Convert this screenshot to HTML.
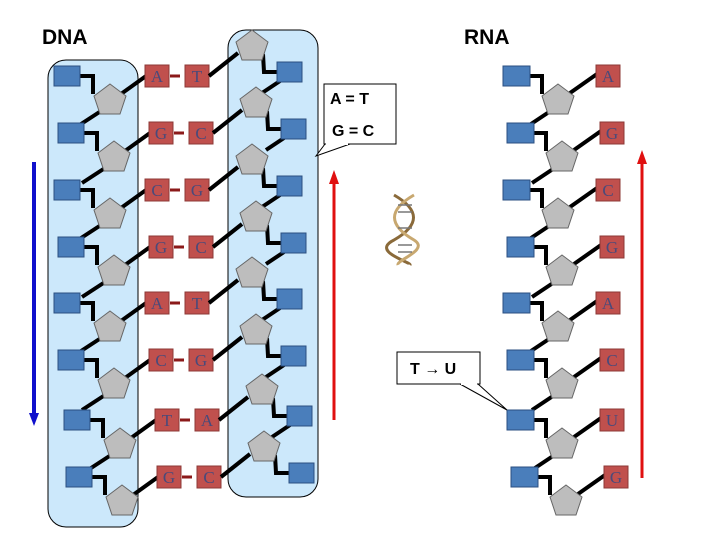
<!DOCTYPE html><html><head><style>body{margin:0;background:#fff}svg{display:block}</style></head><body>
<svg width="720" height="540" xmlns="http://www.w3.org/2000/svg">
<defs>
<g id="L">
<polyline points="80,0 93,0 93,18" fill="none" stroke="#000" stroke-width="4"/>
<line x1="121" y1="18" x2="146" y2="0" stroke="#000" stroke-width="4"/>
<rect x="54" y="-10" width="26" height="20" fill="#4a7ebb" stroke="#2b4f80"/>
<polygon points="110,8 126,20 120,38 100,38 94,20" fill="#bdbdbd" stroke="#666"/>
<rect x="145" y="-11" width="24" height="22" fill="#c0504d" stroke="#8c3836"/>
<line x1="170" y1="0" x2="180" y2="0" stroke="#8b1a1a" stroke-width="3"/>
<rect x="185" y="-11" width="24" height="22" fill="#c0504d" stroke="#8c3836"/>
<line x1="209" y1="0" x2="238" y2="-23" stroke="#000" stroke-width="4"/>
<polyline points="263,-22 264,-4 278,-4" fill="none" stroke="#000" stroke-width="4"/>
<polygon points="252,-46 268,-34 262,-16 242,-16 236,-34" fill="#bdbdbd" stroke="#666"/>
<rect x="277" y="-14" width="25" height="20" fill="#4a7ebb" stroke="#2b4f80"/>
</g>
<g id="Lt">
<line x1="101" y1="35" x2="78" y2="50" stroke="#000" stroke-width="4"/>
<line x1="280" y1="5" x2="262" y2="17" stroke="#000" stroke-width="4"/>
</g>
<g id="R">
<polyline points="530,0 542,0 542,18" fill="none" stroke="#000" stroke-width="4"/>
<line x1="570" y1="17" x2="597" y2="-2" stroke="#000" stroke-width="4"/>
<rect x="503" y="-10" width="27" height="20" fill="#4a7ebb" stroke="#2b4f80"/>
<polygon points="558,8 574,20 568,38 548,38 542,20" fill="#bdbdbd" stroke="#666"/>
<rect x="596" y="-11" width="24" height="22" fill="#c0504d" stroke="#8c3836"/>
</g>
<g id="Rt">
<line x1="549" y1="36" x2="528" y2="50" stroke="#000" stroke-width="4"/>
</g>
</defs>
<rect x="48" y="60" width="90" height="467" rx="18" fill="#cce8fb" stroke="#000"/>
<rect x="228" y="30" width="90" height="467" rx="18" fill="#cce8fb" stroke="#000"/>
<text x="42" y="44" font-family="Liberation Sans, sans-serif" font-weight="bold" font-size="21">DNA</text>
<text x="464" y="44" font-family="Liberation Sans, sans-serif" font-weight="bold" font-size="21">RNA</text>
<use href="#Lt" transform="translate(0,76)"/>
<use href="#Lt" transform="translate(4,133)"/>
<use href="#Lt" transform="translate(0,190)"/>
<use href="#Lt" transform="translate(4,247)"/>
<use href="#Lt" transform="translate(0,303)"/>
<use href="#Lt" transform="translate(4,360)"/>
<use href="#Lt" transform="translate(10,420)"/>
<use href="#L" transform="translate(0,76)"/>
<use href="#L" transform="translate(4,133)"/>
<use href="#L" transform="translate(0,190)"/>
<use href="#L" transform="translate(4,247)"/>
<use href="#L" transform="translate(0,303)"/>
<use href="#L" transform="translate(4,360)"/>
<use href="#L" transform="translate(10,420)"/>
<use href="#L" transform="translate(12,477)"/>
<use href="#Rt" transform="translate(0,76)"/>
<use href="#Rt" transform="translate(4,133)"/>
<use href="#Rt" transform="translate(0,190)"/>
<use href="#Rt" transform="translate(4,247)"/>
<use href="#Rt" transform="translate(0,303)"/>
<use href="#Rt" transform="translate(4,360)"/>
<use href="#Rt" transform="translate(4,420)"/>
<use href="#R" transform="translate(0,76)"/>
<use href="#R" transform="translate(4,133)"/>
<use href="#R" transform="translate(0,190)"/>
<use href="#R" transform="translate(4,247)"/>
<use href="#R" transform="translate(0,303)"/>
<use href="#R" transform="translate(4,360)"/>
<use href="#R" transform="translate(4,420)"/>
<use href="#R" transform="translate(8,477)"/>
<g font-family="Liberation Serif, serif" font-size="17" fill="#4a4a7a" text-anchor="middle">
<text x="157" y="82">A</text><text x="197" y="82">T</text>
<text x="161" y="139">G</text><text x="201" y="139">C</text>
<text x="157" y="196">C</text><text x="197" y="196">G</text>
<text x="161" y="253">G</text><text x="201" y="253">C</text>
<text x="157" y="309">A</text><text x="197" y="309">T</text>
<text x="161" y="366">C</text><text x="201" y="366">G</text>
<text x="167" y="426">T</text><text x="207" y="426">A</text>
<text x="169" y="483">G</text><text x="209" y="483">C</text>
<text x="608" y="82">A</text><text x="612" y="139">G</text><text x="608" y="196">C</text><text x="612" y="253">G</text>
<text x="608" y="309">A</text><text x="612" y="366">C</text><text x="612" y="426">U</text><text x="616" y="483">G</text>
</g>
<line x1="34" y1="162" x2="34" y2="415" stroke="#1010cc" stroke-width="4"/>
<polygon points="29,413 39,413 34,426" fill="#1010cc"/>
<line x1="334" y1="420" x2="334" y2="182" stroke="#e01010" stroke-width="3"/>
<polygon points="329,184 339,184 334,170" fill="#e01010"/>
<line x1="642" y1="478" x2="642" y2="162" stroke="#e01010" stroke-width="3"/>
<polygon points="637,164 647,164 642,150" fill="#e01010"/>
<polygon points="325,144 316,156 350,144" fill="#fff" stroke="#000"/>
<rect x="324" y="84" width="72" height="60" fill="#fff" stroke="#000"/>
<line x1="326" y1="144" x2="348" y2="144" stroke="#fff" stroke-width="2"/>
<text x="330" y="104" font-family="Liberation Sans, sans-serif" font-weight="bold" font-size="16">A = T</text>
<text x="332" y="136" font-family="Liberation Sans, sans-serif" font-weight="bold" font-size="16">G = C</text>
<polygon points="460,384 507,410 478,384" fill="#fff" stroke="#000"/>
<rect x="397" y="352" width="83" height="32" fill="#fff" stroke="#000"/>
<line x1="461" y1="384" x2="477" y2="384" stroke="#fff" stroke-width="2"/>
<text x="410" y="374" font-family="Liberation Sans, sans-serif" font-weight="bold" font-size="16">T → U</text>
<g fill="none" stroke-width="3">
<path d="M394,195 C420,210 420,225 394,240 C370,252 412,262 410,265" stroke="#8a6a3a"/>
<path d="M414,195 C388,210 388,225 414,240 C430,250 396,260 398,265" stroke="#c8a870"/>
<g stroke="#777" stroke-width="1.5"><line x1="398" y1="205" x2="412" y2="205"/><line x1="398" y1="212" x2="412" y2="212"/><line x1="398" y1="228" x2="412" y2="228"/><line x1="398" y1="245" x2="412" y2="245"/><line x1="398" y1="252" x2="412" y2="252"/></g>
</g>
</svg>
</body></html>
